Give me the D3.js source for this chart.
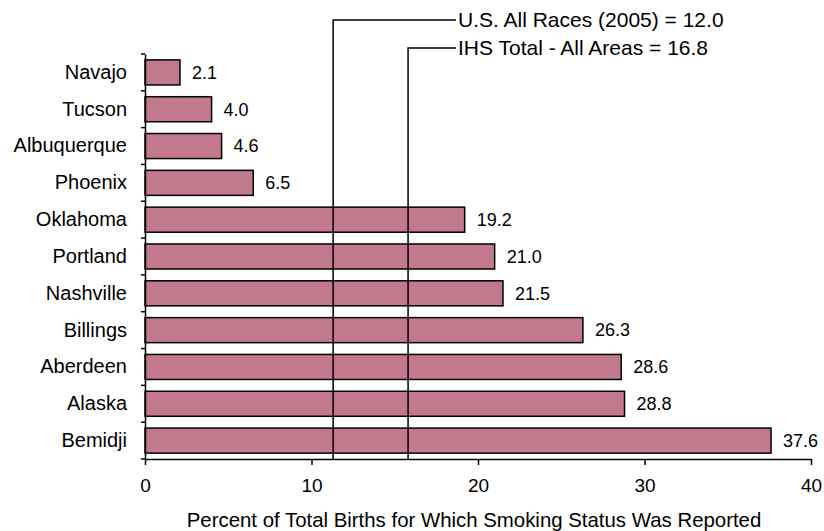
<!DOCTYPE html>
<html>
<head>
<meta charset="utf-8">
<script src="https://cdn.jsdelivr.net/npm/d3@7"></script>
<style>
	body { margin: 0; background: #fff; }
	svg text { font-family: "Liberation Sans", Arial, sans-serif; fill: #000; }
</style>
</head>
<body>
<svg id="chart" width="824" height="531"></svg>
<script>
//data
var areas = ["Navajo","Tucson","Albuquerque","Phoenix","Oklahoma","Portland","Nashville","Billings","Aberdeen","Alaska","Bemidji"];
var percents = [2.1, 4.0, 4.6, 6.5, 19.2, 21.0, 21.5, 26.3, 28.6, 28.8, 37.6];
var xTicks = [0, 10, 20, 30, 40];

//reference lines (position as drawn, label as printed)
var refPos = [11.3, 15.8];
var refLabels = ["U.S. All Races (2005) = 12.0", "IHS Total - All Areas = 16.8"];
var refLabelY = [20, 48];

var margin = {top: 54, right: 13, bottom: 72, left: 145};
var width = 824 - margin.left - margin.right;
var height = 531 - margin.top - margin.bottom;

var svg = d3.select("#chart");
var g = svg.append("g").attr("transform", "translate(" + margin.left + "," + margin.top + ")");

var x = d3.scaleLinear().domain([0, 40]).range([0, width]);
var y = d3.scaleBand().domain(areas).range([0, height]).paddingInner(0.32).paddingOuter(0.16);

//bars
g.selectAll("rect.bar")
	.data(percents)
	.enter().append("rect")
	.attr("class", "bar")
	.attr("x", 0)
	.attr("y", function(d, i) { return y(areas[i]); })
	.attr("width", function(d) { return x(d); })
	.attr("height", y.bandwidth())
	.attr("fill", "#c3798d")
	.attr("stroke", "#000")
	.attr("stroke-width", 1.5);

//value labels
g.selectAll("text.val")
	.data(percents)
	.enter().append("text")
	.attr("class", "val")
	.attr("x", function(d) { return x(d) + 12; })
	.attr("y", function(d, i) { return y(areas[i]) + y.bandwidth() / 2; })
	.attr("dy", "0.35em")
	.style("font-size", "18px")
	.text(function(d) { return d.toFixed(1); });

//reference lines
refPos.forEach(function(v, i) {
	var lx = x(v);
	var ly = refLabelY[i] - margin.top;
	g.append("path")
		.attr("d", "M" + lx + "," + height + "V" + ly + "H" + 311)
		.attr("fill", "none")
		.attr("stroke", "#000")
		.attr("stroke-width", 1.5);
	g.append("text")
		.attr("x", 313)
		.attr("y", ly)
		.attr("dy", "0.35em")
		.style("font-size", "21px")
		.text(refLabels[i]);
});

//y axis
var yAxis = g.append("g")
	.call(d3.axisLeft(y).tickSize(0).tickPadding(18));
yAxis.select(".domain").attr("stroke-width", 1.5);
yAxis.selectAll("text").style("font-size", "20px");
//band ticks between categories
var bandEdges = areas.map(function(a) { return y(a) - y.step() * y.paddingInner() / 2; });
bandEdges.push(height);
g.selectAll("line.btick")
	.data(bandEdges)
	.enter().append("line")
	.attr("class", "btick")
	.attr("x1", -4).attr("x2", 0)
	.attr("y1", function(d) { return d; })
	.attr("y2", function(d) { return d; })
	.attr("stroke", "#000")
	.attr("stroke-width", 1.5);

//x axis
var xAxis = g.append("g")
	.attr("transform", "translate(0," + height + ")")
	.call(d3.axisBottom(x).tickValues(xTicks).tickSize(6).tickPadding(14).tickSizeOuter(0));
xAxis.select(".domain").attr("stroke-width", 1.5);
xAxis.selectAll(".tick line").attr("stroke-width", 1.5);
xAxis.selectAll("text").style("font-size", "19px");

//axis title
svg.append("text")
	.attr("x", 474)
	.attr("y", 527)
	.attr("text-anchor", "middle")
	.style("font-size", "20.4px")
	.text("Percent of Total Births for Which Smoking Status Was Reported");
</script>
</body>
</html>
